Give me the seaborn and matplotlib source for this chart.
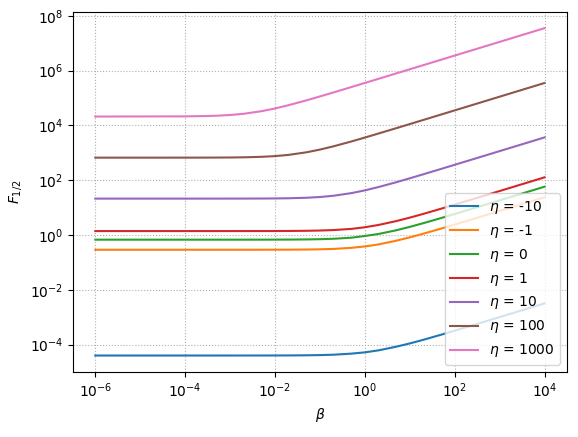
import matplotlib
matplotlib.use("Agg")
import matplotlib.pyplot as plt
from matplotlib.ticker import NullLocator
import pandas as pd
import seaborn as sns

# beta grid
beta = [1e-6, 1e-4, 3e-4, 5e-4, 1e-3, 2e-3, 5e-3, 1e-2, 2e-2, 5e-2, 0.1,
        0.2, 0.5, 1, 2, 5, 10, 20, 50, 100, 1e3, 1e4]

etas = [-10, -1, 0, 1, 10, 100, 1000]

f_m10 = [4.023e-5, 4.023e-5, 4.024e-5, 4.024e-5, 4.025e-5, 4.026e-5, 4.031e-5, 4.038e-5,
         4.053e-5, 4.098e-5, 4.170e-5, 4.306e-5, 4.712e-5, 5.244e-5, 6.197e-5, 8.444e-5,
         1.110e-4, 1.505e-4, 2.315e-4, 3.242e-4, 1.016e-3, 3.210e-3]
f_m1 = [0.2906, 0.2906, 0.2906, 0.2906, 0.2907, 0.2908, 0.2912, 0.2918, 0.2929, 0.2963,
        0.3017, 0.3122, 0.342, 0.384, 0.454, 0.622, 0.822, 1.121, 1.725, 2.417, 7.581, 23.95]
f_0 = [0.6781, 0.6781, 0.6782, 0.6782, 0.6784, 0.6787, 0.6795, 0.6810, 0.6839, 0.6922,
       0.7059, 0.7318, 0.80, 0.925, 1.092, 1.493, 1.987, 2.71, 4.18, 5.865, 18.41, 58.16]
f_1 = [1.3963, 1.3964, 1.3965, 1.3966, 1.3970, 1.3976, 1.3996, 1.4030, 1.4096, 1.4291,
       1.4626, 1.523, 1.675, 1.925, 2.33, 3.23, 4.32, 5.91, 9.16, 12.86, 40.41, 127.7]
f_10 = [21.34, 21.34, 21.35, 21.36, 21.38, 21.41, 21.51, 21.67, 22.00, 22.94, 24.43,
        27.12, 33.85, 42.68, 56.25, 84.6, 117.7, 164.9, 259.2, 365.9, 1154.9, 3651.6]
f_100 = [666.75, 667.75, 669.75, 671.75, 676.6, 686.3, 714.5, 759.2, 840.4, 1044, 1312.8,
         1727, 2594, 3605, 5051, 7938, 11204, 15829, 25013, 35364, 111820, 353600]
f_1000 = [21085, 21394, 22005, 22591, 24006, 26574, 33014, 41510, 54602, 82010, 113990,
          159700, 251000, 354260, 500500, 790900, 1118200, 1581300, 2500000, 3535700,
          11180000, 35355000]

series = [f_m10, f_m1, f_0, f_1, f_10, f_100, f_1000]
x_ticks = [1e-6, 1e-4, 1e-2, 1e0, 1e2, 1e4]
y_ticks = [1e-4, 1e-2, 1e0, 1e2, 1e4, 1e6, 1e8]

rows = []
for eta, vals in zip(etas, series):
    for b, v in zip(beta, vals):
        rows.append({"beta": b, "F": v, "eta": f"$\\eta$ = {eta}"})
df = pd.DataFrame(rows)

fig, ax = plt.subplots(figsize=(5.78, 4.37), dpi=100)
fig.subplots_adjust(left=0.126, right=0.981, top=0.973, bottom=0.149)

sns.lineplot(data=df, x="beta", y="F", hue="eta", palette="tab10", ax=ax,
             linewidth=1.5, sort=False)

ax.set_xscale("log")
ax.set_yscale("log")
ax.set_xticks(x_ticks)
ax.set_yticks(y_ticks)
ax.xaxis.set_minor_locator(NullLocator())
ax.yaxis.set_minor_locator(NullLocator())
ax.grid(True, which="major", linestyle=":", color="#b0b0b0", linewidth=0.8)
ax.set_xlabel(r"$\beta$")
ax.set_ylabel(r"$F_{1/2}$")
ax.legend(loc="lower right")

fig.savefig("out.png", dpi=100)
